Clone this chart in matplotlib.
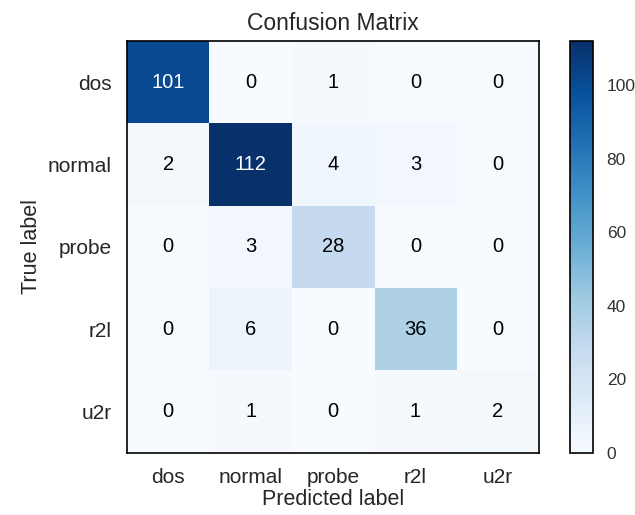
import numpy as np
import matplotlib
matplotlib.use("Agg")
from matplotlib import pyplot as plt
import seaborn as sns

sns.set_style("white")
plt.rcParams['font.family'] = ['Liberation Sans', 'DejaVu Sans']

classes = ["dos", "normal", "probe", "r2l", "u2r"]
cm = np.array([
    [101, 0, 1, 0, 0],
    [2, 112, 4, 3, 0],
    [0, 3, 28, 0, 0],
    [0, 6, 0, 36, 0],
    [0, 1, 0, 1, 2],
])

fig = plt.figure(figsize=(6.35, 5.15), dpi=100)
ax = fig.add_axes([0.2, 0.1204, 0.649, 0.8])
cax = fig.add_axes([0.8976, 0.1204, 0.036, 0.8])

im = ax.imshow(cm, interpolation='nearest', cmap=plt.cm.Blues, aspect='auto')
cb = fig.colorbar(im, cax=cax)
cb.ax.tick_params(labelsize=12.5, length=0, pad=10, labelcolor='#333333')
cb.outline.set_edgecolor('black')
cb.outline.set_linewidth(1.2)

ax.set_title("Confusion Matrix", fontsize=16.5, color='#262626', pad=8)
ticks = np.arange(len(classes))
ax.set_xticks(ticks)
ax.set_xticklabels(classes, fontsize=15)
ax.set_yticks(ticks)
ax.set_yticklabels(classes, fontsize=15)
ax.tick_params(axis='y', length=0, pad=11)
ax.tick_params(axis='x', length=0, pad=11)

# annotate cells, white text on the dark ones
thresh = cm.max() / 2.
for i in range(cm.shape[0]):
    for j in range(cm.shape[1]):
        ax.text(j, i, format(cm[i, j], 'd'), ha='center', va='center',
                fontsize=14.5, color='white' if cm[i, j] > thresh else 'black')

for s in ax.spines.values():
    s.set_edgecolor('black')
    s.set_linewidth(1.2)

ax.set_ylabel("True label", fontsize=15.5, labelpad=4)
ax.set_xlabel("Predicted label", fontsize=15.5, labelpad=1)

fig.savefig("out.png", dpi=100)
